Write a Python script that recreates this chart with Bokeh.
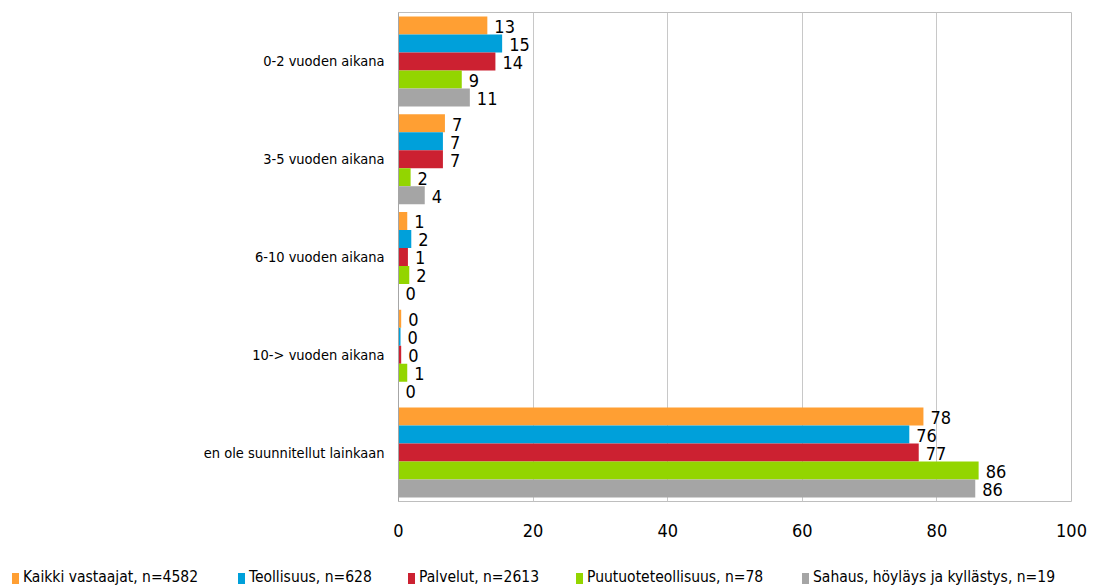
from bokeh.plotting import figure
from bokeh.layouts import column
from bokeh.models import (FactorRange, Range1d, ColumnDataSource, LabelSet, FixedTicker, Div)
from bokeh.core.properties import value
from bokeh.transform import dodge
from bokeh.embed import file_html
from bokeh.resources import INLINE

categories = ["0-2 vuoden aikana", "3-5 vuoden aikana", "6-10 vuoden aikana",
              "10-> vuoden aikana", "en ole suunnitellut lainkaan"]
series_names = ["Kaikki vastaajat, n=4582", "Teollisuus, n=628", "Palvelut, n=2613",
                "Puutuoteteollisuus, n=78", "Sahaus, höyläys ja kyllästys, n=19"]
kaikki = [13.2, 6.9, 1.3, 0.4, 78.0]
teollisuus = [15.4, 6.6, 1.9, 0.3, 75.9]
palvelut = [14.4, 6.6, 1.4, 0.4, 77.3]
puutuote = [9.4, 1.8, 1.6, 1.3, 86.2]
sahaus = [10.6, 3.9, 0.0, 0.0, 85.7]
colors = ["#FF9F33", "#00A0DA", "#CC2131", "#93D500", "#A5A5A5"]
x_ticks = [0, 20, 40, 60, 80, 100]

series = [kaikki, teollisuus, palvelut, puutuote, sahaus]
offsets = [0.368, 0.184, 0.0, -0.184, -0.368]
bar_h = 0.184

p = figure(frame_width=673, frame_height=489, output_backend="svg", toolbar_location=None,
           y_range=FactorRange(factors=list(reversed(categories))),
           x_range=Range1d(0, 100),
           min_border_left=398, min_border_right=27, min_border_top=12,
           min_border_bottom=55)
p.y_range.range_padding = 0

num_font = "DejaVu Sans Condensed"
txt_font = "DejaVu Sans Condensed"

for name, vals, col, off in zip(series_names, series, colors, offsets):
    src = ColumnDataSource(dict(cat=categories, val=vals,
                                lab=[str(int(v + 0.5)) for v in vals]))
    p.hbar(y=dodge("cat", off, range=p.y_range), right="val", left=0,
           height=bar_h, source=src, fill_color=col, line_color=None)
    lbl = LabelSet(x="val", y=dodge("cat", off - 0.01, range=p.y_range), text="lab",
                   source=src, x_offset=7, text_align="left", text_baseline="middle",
                   text_font=value(num_font), text_font_size="18px", text_color="#000000")
    p.add_layout(lbl)

# axes
p.xaxis.ticker = FixedTicker(ticks=x_ticks)
p.xaxis.axis_line_color = None
p.xaxis.major_tick_line_color = None
p.xaxis.minor_tick_line_color = None
p.xaxis.major_label_text_font = num_font
p.xaxis.major_label_text_font_size = "18px"
p.xaxis.major_label_text_color = "#000000"
p.xaxis.major_label_standoff = 16

p.yaxis.axis_line_color = "#A6A6A6"
p.yaxis.major_tick_line_color = None
p.yaxis.minor_tick_line_color = None
p.yaxis.major_label_text_font = txt_font
p.yaxis.major_label_text_font_size = "14.5px"
p.yaxis.major_label_text_color = "#000000"
p.yaxis.major_label_standoff = 8

p.ygrid.grid_line_color = None
p.xgrid.grid_line_color = "#C8C8C8"
p.outline_line_color = "#BEBEBE"

# legend strip below the chart (HTML, real text)
legend_x = [12, 238, 408, 576, 802]
parts = ['<div style="position:relative;width:1098px;height:29px;'
         'font-family:\'DejaVu Sans Condensed\',sans-serif;font-size:15.5px;color:#000;">']
for name, col, lx in zip(series_names, colors, legend_x):
    parts.append(f'<span style="position:absolute;left:{lx}px;top:17px;width:7px;'
                 f'height:11px;background:{col};"></span>')
    parts.append(f'<span style="position:absolute;left:{lx + 11}px;top:12px;'
                 f'line-height:18px;white-space:nowrap;">{name}</span>')
parts.append('</div>')
leg = Div(text="".join(parts), width=1098, height=29, margin=0)

layout = column(p, leg, spacing=0)
open("out.html", "w").write(file_html(layout, INLINE))
